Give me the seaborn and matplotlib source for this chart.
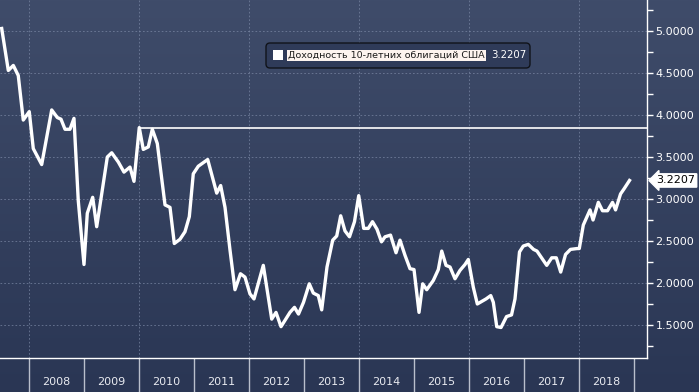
import numpy as np
import pandas as pd
import seaborn as sns
import matplotlib.pyplot as plt
import matplotlib.transforms as mtransforms
from matplotlib.colors import LinearSegmentedColormap
from matplotlib.patches import FancyBboxPatch, Rectangle
from matplotlib.ticker import MultipleLocator, FixedLocator, FuncFormatter, NullFormatter

# monthly-ish readings of the US 10y yield, decimal year -> percent
years = [
    2007.504, 2007.624, 2007.715, 2007.805, 2007.896, 2008.005, 2008.078, 2008.231,
    2008.413, 2008.515, 2008.582, 2008.655, 2008.745, 2008.818, 2008.896, 2009.000,
    2009.060, 2009.158, 2009.231, 2009.322, 2009.424, 2009.504, 2009.624, 2009.727,
    2009.836, 2009.909, 2010.005, 2010.078, 2010.169, 2010.242, 2010.333, 2010.473,
    2010.564, 2010.642, 2010.745, 2010.836, 2010.915, 2010.987, 2011.078, 2011.249,
    2011.413, 2011.485, 2011.564, 2011.655, 2011.745, 2011.845, 2011.927, 2012.018,
    2012.091, 2012.260, 2012.413, 2012.491, 2012.582, 2012.745, 2012.827, 2012.900,
    2012.991, 2013.096, 2013.169, 2013.260, 2013.322, 2013.418, 2013.522, 2013.595,
    2013.667, 2013.745, 2013.827, 2013.918, 2013.995, 2014.085, 2014.169, 2014.245,
    2014.327, 2014.409, 2014.473, 2014.573, 2014.673, 2014.745, 2014.836, 2014.927,
    2015.000, 2015.091, 2015.158, 2015.231, 2015.351, 2015.442, 2015.504, 2015.582,
    2015.655, 2015.745, 2015.836, 2015.927, 2015.987, 2016.078, 2016.151, 2016.309,
    2016.395, 2016.442, 2016.504, 2016.582, 2016.682, 2016.773, 2016.836, 2016.918,
    2016.987, 2017.078, 2017.173, 2017.236, 2017.413, 2017.504, 2017.587, 2017.667,
    2017.755, 2017.845, 2017.964, 2018.005, 2018.078, 2018.200, 2018.255, 2018.351,
    2018.427, 2018.518, 2018.609, 2018.664, 2018.755, 2018.818, 2018.918,
]
yields = [
    5.03, 4.53, 4.59, 4.47, 3.94, 4.04, 3.60, 3.41,
    4.06, 3.97, 3.95, 3.83, 3.83, 3.96, 2.98, 2.22,
    2.83, 3.02, 2.67, 3.06, 3.50, 3.55, 3.44, 3.32,
    3.38, 3.21, 3.85, 3.59, 3.62, 3.83, 3.66, 2.93,
    2.90, 2.47, 2.52, 2.61, 2.79, 3.30, 3.39, 3.47,
    3.07, 3.16, 2.90, 2.39, 1.92, 2.11, 2.07, 1.87,
    1.81, 2.21, 1.57, 1.65, 1.48, 1.65, 1.71, 1.63,
    1.77, 1.99, 1.88, 1.85, 1.68, 2.19, 2.51, 2.56,
    2.80, 2.62, 2.55, 2.73, 3.04, 2.65, 2.65, 2.73,
    2.64, 2.49, 2.55, 2.57, 2.36, 2.51, 2.33, 2.17,
    2.16, 1.65, 1.99, 1.92, 2.03, 2.16, 2.38, 2.21,
    2.19, 2.05, 2.15, 2.22, 2.28, 1.95, 1.75, 1.81,
    1.85, 1.77, 1.48, 1.47, 1.60, 1.62, 1.81, 2.37,
    2.44, 2.46, 2.40, 2.38, 2.21, 2.30, 2.30, 2.13,
    2.34, 2.40, 2.41, 2.41, 2.69, 2.87, 2.75, 2.96,
    2.86, 2.86, 2.96, 2.87, 3.06, 3.12, 3.2207,
]
year_labels = list(range(2008, 2019))
last_value = 3.2207
ref_level = 3.842
ref_start = 2010.0
series_label = "Доходность 10-летних облигаций США"

W, H = 699, 392
fig = plt.figure(figsize=(W / 100, H / 100), dpi=100)

# background gradient over the whole figure
bg = fig.add_axes([0, 0, 1, 1], zorder=0)
cmap = LinearSegmentedColormap.from_list("bg", ["#3f4c6a", "#2a3654"])
bg.imshow(np.linspace(0, 1, 256).reshape(-1, 1), cmap=cmap, aspect="auto", extent=[0, 1, 0, 1])
bg.axis("off")

ax = fig.add_axes([0, 34 / H, 647 / W, 1 - 34 / H], zorder=1)
ax.patch.set_alpha(0)

df = pd.DataFrame({"year": years, "yield": yields})
sns.lineplot(data=df, x="year", y="yield", ax=ax, color="white", linewidth=2.4, zorder=5)

ax.set_xlim(2007.473, 2019.236)
ax.set_ylim(1.107, 5.369)
ax.hlines(ref_level, ref_start, ax.get_xlim()[1], color="white", linewidth=1.2, zorder=4)

grid_kw = dict(color="#7c89a6", linestyle=(0, (2, 2.5)), linewidth=0.6, alpha=0.8)
ax.grid(axis="y", which="major", **grid_kw)
for yr in range(2008, 2019, 2):
    ax.axvline(yr, zorder=1, **grid_kw)

# right y axis
ax.yaxis.tick_right()
ax.yaxis.set_major_locator(MultipleLocator(0.5))
ax.yaxis.set_minor_locator(MultipleLocator(0.25))
ax.yaxis.set_major_formatter(FuncFormatter(lambda v, _: f"{v:.4f}"))
ax.tick_params(axis="y", which="both", colors="white", length=4, width=1, labelsize=8, pad=2)

# x axis: separators at year starts, labels in the middle
ax.xaxis.set_major_locator(FixedLocator(list(range(2008, 2020))))
ax.xaxis.set_major_formatter(NullFormatter())
ax.xaxis.set_minor_locator(FixedLocator([y + 0.5 for y in year_labels]))
ax.xaxis.set_minor_formatter(FuncFormatter(lambda v, _: str(int(v))))
ax.tick_params(axis="x", which="major", length=24.5, width=1, color="#b9bfcc", direction="out")
ax.tick_params(axis="x", which="minor", length=0, labelsize=8, labelcolor="#e8eaf0", pad=14)
ax.set_xlabel("")
ax.set_ylabel("")

for side in ["top", "left"]:
    ax.spines[side].set_visible(False)
for side in ["bottom", "right"]:
    ax.spines[side].set_color("white")
    ax.spines[side].set_linewidth(1)

# legend box drawn in pixel space
px = mtransforms.IdentityTransform()
fig.add_artist(FancyBboxPatch((266, H - 68), 264, 25, boxstyle="round,pad=0,rounding_size=4",
                              transform=px, fc="#2f3b59", ec="#10131a", lw=1, zorder=3))
fig.add_artist(Rectangle((273, H - 60), 10, 10, transform=px, fc="white", ec="none", zorder=4))
fig.text(288 / W, 1 - 55.5 / H, series_label, fontsize=6.8, color="#1b1b1b", va="center", ha="left",
         bbox=dict(fc="#fdf4ef", ec="none", pad=1), zorder=4)
fig.text(491 / W, 1 - 55.5 / H, f"{last_value:.4f}", fontsize=7.3, color="white", va="center",
         ha="left", zorder=4)

# last value flag on the right axis
trans = mtransforms.blended_transform_factory(ax.transAxes, ax.transData)
ax.text(1.014, last_value, f"{last_value:.4f}", transform=trans, va="center", ha="left",
        fontsize=8, color="black", clip_on=False, zorder=6,
        bbox=dict(boxstyle="larrow,pad=0.15", fc="white", ec="white"))

fig.savefig("out.png", dpi=100)
